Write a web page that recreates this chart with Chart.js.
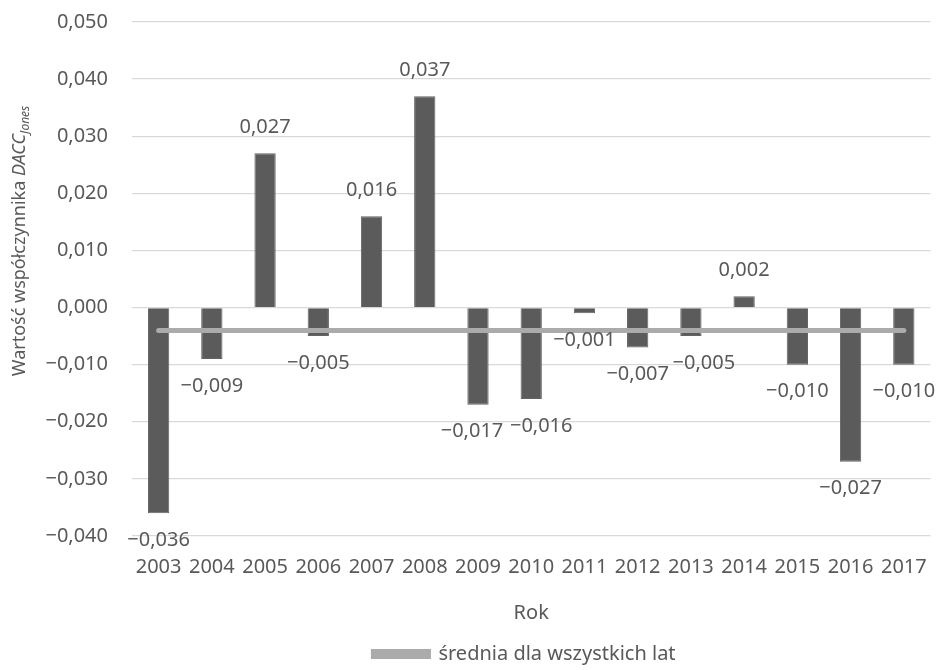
<!DOCTYPE html>
<html lang="pl">
<head>
<meta charset="utf-8">
<title>DACC Jones 2003–2017</title>
<script src="https://cdn.jsdelivr.net/npm/chart.js@4/dist/chart.umd.min.js"></script>
<style>
  html, body { margin: 0; padding: 0; background: #ffffff; }
  #wrap { width: 946px; height: 670px; position: relative; }
</style>
</head>
<body>
<div id="wrap"><canvas id="chart" width="946" height="670"></canvas></div>
<script>
// Years on the category axis
const years = ['2003', '2004', '2005', '2006', '2007', '2008', '2009', '2010',
               '2011', '2012', '2013', '2014', '2015', '2016', '2017'];

// Yearly DACC (Jones model) values
const daccValues = [-0.036, -0.009, 0.027, -0.005, 0.016, 0.037, -0.017, -0.016,
                    -0.001, -0.007, -0.005, 0.002, -0.010, -0.027, -0.010];

// Mean over all years, drawn as a flat reference line
const meanValues = [-0.004, -0.004, -0.004, -0.004, -0.004, -0.004, -0.004, -0.004,
                    -0.004, -0.004, -0.004, -0.004, -0.004, -0.004, -0.004];

// Value axis range and step
const yMin = -0.04;
const yMax = 0.05;
const yStep = 0.01;

const FONT = '"Noto Sans", "Open Sans", sans-serif';
const TEXT = '#595959';

// Polish number style: comma decimal separator, true minus sign
function fmt(v, digits) {
  const s = Math.abs(v).toFixed(digits).replace('.', ',');
  return (v < -1e-9 ? '\u2212' : '') + s;
}

// Small horizontal nudges for value labels that would otherwise crowd
const labelNudge = { 6: -6, 7: 10, 10: 13 };

const valueLabels = {
  id: 'valueLabels',
  afterDatasetsDraw(chart) {
    const meta = chart.getDatasetMeta(0);
    const ctx = chart.ctx;
    ctx.save();
    ctx.font = '20px ' + FONT;
    ctx.fillStyle = TEXT;
    ctx.textAlign = 'center';
    ctx.textBaseline = 'middle';
    meta.data.forEach((bar, i) => {
      const v = chart.data.datasets[0].data[i];
      const dx = labelNudge[i] || 0;
      const y = v >= 0 ? bar.y - 26 : bar.y + 27;
      ctx.fillText(fmt(v, 3), bar.x + dx, y);
    });
    ctx.restore();
  }
};

// Rotated value-axis title with italic DACC and subscript "Jones"
const yTitle = {
  id: 'yTitle',
  afterDraw(chart) {
    const ctx = chart.ctx;
    const parts = [
      { t: 'Wartość współczynnika ', f: '18px ' + FONT, dy: 0 },
      { t: 'DACC', f: 'italic 18px ' + FONT, dy: 0 },
      { t: 'Jones', f: 'italic 12px ' + FONT, dy: 4 }
    ];
    ctx.save();
    let total = 0;
    parts.forEach(p => { ctx.font = p.f; p.w = ctx.measureText(p.t).width; total += p.w; });
    ctx.translate(25, 241);
    ctx.rotate(-Math.PI / 2);
    ctx.fillStyle = TEXT;
    ctx.textBaseline = 'alphabetic';
    ctx.textAlign = 'left';
    let x = -total / 2;
    parts.forEach(p => { ctx.font = p.f; ctx.fillText(p.t, x, p.dy); x += p.w; });
    ctx.restore();
  }
};

// Places the legend row under the plot centre
const legendPlacement = {
  id: 'legendPlacement',
  afterLayout(chart) {
    const lg = chart.legend;
    if (!lg) return;
    lg.left += 56; lg.right += 56;
    lg.top += 4; lg.bottom += 4;
  }
};

new Chart(document.getElementById('chart'), {
  data: {
    labels: years,
    datasets: [
      {
        type: 'bar',
        label: 'DACC',
        data: daccValues,
        backgroundColor: '#5B5B5B',
        borderColor: '#646464',
        borderWidth: 1,
        barPercentage: 0.4,
        categoryPercentage: 1,
        order: 2
      },
      {
        type: 'line',
        label: 'średnia dla wszystkich lat',
        data: meanValues,
        borderColor: '#ABABAB',
        backgroundColor: '#ABABAB',
        borderWidth: 5,
        borderCapStyle: 'round',
        pointRadius: 0,
        pointHoverRadius: 0,
        fill: false,
        order: 1
      }
    ]
  },
  options: {
    responsive: false,
    animation: false,
    events: [],
    layout: { padding: { top: 22, right: 9, left: 0, bottom: 0 } },
    scales: {
      x: {
        offset: true,
        grid: { display: false, drawTicks: false },
        border: { display: false },
        ticks: { color: TEXT, font: { family: FONT, size: 20 }, padding: 19, maxRotation: 0, autoSkip: false },
        title: { display: true, text: 'Rok', color: TEXT, font: { family: FONT, size: 20 }, padding: { top: 0, bottom: 9 } },
        afterFit(scale) { scale.height = 98; }
      },
      y: {
        min: yMin,
        max: yMax,
        grid: { color: '#D9D9D9', lineWidth: 1.3, drawTicks: false },
        border: { display: false },
        ticks: {
          stepSize: yStep,
          color: TEXT,
          font: { family: FONT, size: 20 },
          padding: 24,
          callback: v => fmt(v, 3)
        },
        afterFit(scale) {
          scale.width = 132;
          scale.paddingTop = 0;
          scale.paddingBottom = 0;
        }
      }
    },
    plugins: {
      legend: {
        position: 'bottom',
        labels: {
          color: TEXT,
          font: { family: FONT, size: 20 },
          boxWidth: 55,
          boxHeight: 5,
          padding: 6,
          filter: item => item.datasetIndex === 1
        }
      },
      tooltip: { enabled: false }
    }
  },
  plugins: [valueLabels, yTitle, legendPlacement]
});
</script>
</body>
</html>
